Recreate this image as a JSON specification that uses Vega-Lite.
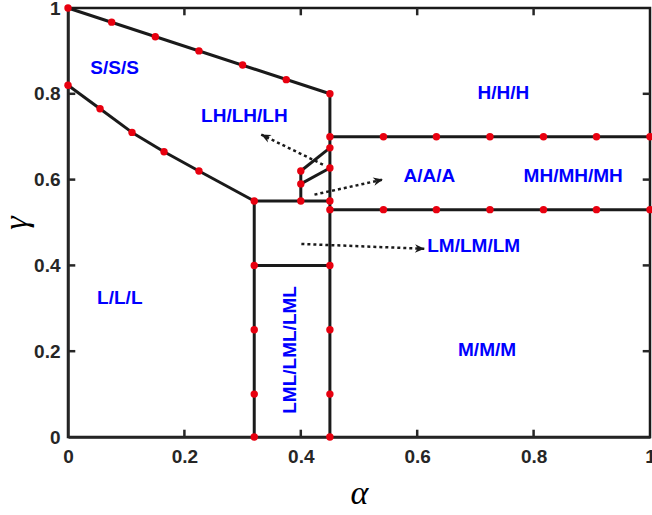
{
  "$schema": "https://vega.github.io/schema/vega-lite/v6.json",
  "width": 582,
  "height": 429,
  "autosize": {"type": "none"},
  "padding": {"left": 68, "top": 8, "right": 2, "bottom": 78},
  "background": "white",
  "config": {
    "view": {"stroke": "#1a1a1a", "strokeWidth": 2.5},
    "font": "Liberation Sans",
    "axis": {
      "grid": false,
      "zindex": 1,
      "domainColor": "#262626",
      "domainWidth": 2.5,
      "ticks": false,
      "labelFont": "Liberation Sans",
      "labelFontSize": 19,
      "labelFontWeight": "bold",
      "labelColor": "#262626",
      "labelFlush": false,
      "labelOverlap": false,
      "titleFont": "Liberation Serif",
      "titleFontStyle": "italic",
      "titleFontWeight": "normal",
      "titleFontSize": 34,
      "titleColor": "#000000"
    }
  },
  "datasets": {
    "segs": [
      {"a1": 0, "g1": 1, "a2": 0.45, "g2": 0.8},
      {"a1": 0, "g1": 0.82, "a2": 0.055, "g2": 0.765},
      {"a1": 0.055, "g1": 0.765, "a2": 0.11, "g2": 0.71},
      {"a1": 0.11, "g1": 0.71, "a2": 0.165, "g2": 0.665},
      {"a1": 0.165, "g1": 0.665, "a2": 0.225, "g2": 0.62},
      {"a1": 0.225, "g1": 0.62, "a2": 0.32, "g2": 0.55},
      {"a1": 0.32, "g1": 0.55, "a2": 0.45, "g2": 0.55},
      {"a1": 0.32, "g1": 0, "a2": 0.32, "g2": 0.55},
      {"a1": 0.45, "g1": 0, "a2": 0.45, "g2": 0.8},
      {"a1": 0.32, "g1": 0.4, "a2": 0.45, "g2": 0.4},
      {"a1": 0.45, "g1": 0.7, "a2": 1, "g2": 0.7},
      {"a1": 0.45, "g1": 0.53, "a2": 1, "g2": 0.53},
      {"a1": 0.4, "g1": 0.55, "a2": 0.4, "g2": 0.62},
      {"a1": 0.4, "g1": 0.59, "a2": 0.45, "g2": 0.627},
      {"a1": 0.4, "g1": 0.62, "a2": 0.45, "g2": 0.674}
    ],
    "tickmarks": [
      {"a1": 0.2, "g1": 0, "a2": 0.2, "g2": 0.017},
      {"a1": 0.4, "g1": 0, "a2": 0.4, "g2": 0.017},
      {"a1": 0.6, "g1": 0, "a2": 0.6, "g2": 0.017},
      {"a1": 0.8, "g1": 0, "a2": 0.8, "g2": 0.017},
      {"a1": 0.2, "g1": 1, "a2": 0.2, "g2": 0.983},
      {"a1": 0.4, "g1": 1, "a2": 0.4, "g2": 0.983},
      {"a1": 0.6, "g1": 1, "a2": 0.6, "g2": 0.983},
      {"a1": 0.8, "g1": 1, "a2": 0.8, "g2": 0.983},
      {"a1": 0, "g1": 0.2, "a2": 0.0125, "g2": 0.2},
      {"a1": 0, "g1": 0.4, "a2": 0.0125, "g2": 0.4},
      {"a1": 0, "g1": 0.6, "a2": 0.0125, "g2": 0.6},
      {"a1": 0, "g1": 0.8, "a2": 0.0125, "g2": 0.8},
      {"a1": 1, "g1": 0.2, "a2": 0.9875, "g2": 0.2},
      {"a1": 1, "g1": 0.4, "a2": 0.9875, "g2": 0.4},
      {"a1": 1, "g1": 0.6, "a2": 0.9875, "g2": 0.6},
      {"a1": 1, "g1": 0.8, "a2": 0.9875, "g2": 0.8}
    ],
    "dots": [
      {"a": 0, "g": 1}, {"a": 0.075, "g": 0.967}, {"a": 0.15, "g": 0.933}, {"a": 0.225, "g": 0.9},
      {"a": 0.3, "g": 0.867}, {"a": 0.375, "g": 0.833}, {"a": 0.45, "g": 0.8},
      {"a": 0, "g": 0.82}, {"a": 0.055, "g": 0.765}, {"a": 0.11, "g": 0.71}, {"a": 0.165, "g": 0.665},
      {"a": 0.225, "g": 0.62}, {"a": 0.32, "g": 0.55},
      {"a": 0.32, "g": 0}, {"a": 0.32, "g": 0.1}, {"a": 0.32, "g": 0.25}, {"a": 0.32, "g": 0.4},
      {"a": 0.4, "g": 0.55}, {"a": 0.45, "g": 0.55},
      {"a": 0.45, "g": 0}, {"a": 0.45, "g": 0.1}, {"a": 0.45, "g": 0.25}, {"a": 0.45, "g": 0.4},
      {"a": 0.45, "g": 0.53}, {"a": 0.45, "g": 0.627}, {"a": 0.45, "g": 0.674}, {"a": 0.45, "g": 0.7},
      {"a": 0.4, "g": 0.59}, {"a": 0.4, "g": 0.62},
      {"a": 0.542, "g": 0.7}, {"a": 0.633, "g": 0.7}, {"a": 0.725, "g": 0.7}, {"a": 0.817, "g": 0.7}, {"a": 0.908, "g": 0.7}, {"a": 1, "g": 0.7},
      {"a": 0.542, "g": 0.53}, {"a": 0.633, "g": 0.53}, {"a": 0.725, "g": 0.53}, {"a": 0.817, "g": 0.53}, {"a": 0.908, "g": 0.53}, {"a": 1, "g": 0.53}
    ],
    "arrows": [
      {"arrow": 1, "a1": 0.438, "g1": 0.635, "a2": 0.332, "g2": 0.705},
      {"arrow": 2, "a1": 0.4235, "g1": 0.565, "a2": 0.541, "g2": 0.6},
      {"arrow": 3, "a1": 0.401, "g1": 0.45, "a2": 0.6125, "g2": 0.4387}
    ],
    "labels": [
      {"label": "S/S/S", "a": 0.08, "g": 0.861},
      {"label": "LH/LH/LH", "a": 0.303, "g": 0.749},
      {"label": "H/H/H", "a": 0.748, "g": 0.803},
      {"label": "A/A/A", "a": 0.621, "g": 0.609},
      {"label": "MH/MH/MH", "a": 0.868, "g": 0.609},
      {"label": "LM/LM/LM", "a": 0.697, "g": 0.446},
      {"label": "L/L/L", "a": 0.089, "g": 0.324},
      {"label": "M/M/M", "a": 0.72, "g": 0.203}
    ],
    "vlabels": [
      {"label": "LML/LML/LML", "a": 0.381, "g": 0.203}
    ]
  },
  "layer": [
    {
      "data": {"name": "segs"},
      "mark": {"type": "rule", "color": "#1a1a1a", "strokeWidth": 3},
      "encoding": {
        "x": {"field": "a1", "type": "quantitative", "scale": {"domain": [0, 1], "nice": false},
          "axis": {"values": [0, 0.2, 0.4, 0.6, 0.8, 1], "format": "~g", "labelPadding": 10, "titlePadding": 10}, "title": "α"},
        "y": {"field": "g1", "type": "quantitative", "scale": {"domain": [0, 1], "nice": false},
          "axis": {"values": [0, 0.2, 0.4, 0.6, 0.8, 1], "format": "~g", "labelPadding": 8, "titlePadding": 0}, "title": "γ"},
        "x2": {"field": "a2"},
        "y2": {"field": "g2"}
      }
    },
    {
      "data": {"name": "tickmarks"},
      "mark": {"type": "rule", "color": "#262626", "strokeWidth": 2.5},
      "encoding": {
        "x": {"field": "a1", "type": "quantitative"},
        "y": {"field": "g1", "type": "quantitative"},
        "x2": {"field": "a2"},
        "y2": {"field": "g2"}
      }
    },
    {
      "data": {"name": "arrows"},
      "mark": {"type": "rule", "color": "#1a1a1a", "strokeWidth": 2.5, "strokeDash": [3, 3]},
      "encoding": {
        "x": {"field": "a1", "type": "quantitative"},
        "y": {"field": "g1", "type": "quantitative"},
        "x2": {"field": "a2"},
        "y2": {"field": "g2"}
      }
    },
    {
      "data": {"name": "arrows"},
      "transform": [{"filter": "datum.arrow == 1"}],
      "mark": {"type": "point", "shape": "M0,0 L-2,-0.9 L-1.4,0 L-2,0.9 Z", "filled": true, "color": "#1a1a1a", "opacity": 1, "size": 90, "angle": 206},
      "encoding": {"x": {"field": "a2", "type": "quantitative"}, "y": {"field": "g2", "type": "quantitative"}}
    },
    {
      "data": {"name": "arrows"},
      "transform": [{"filter": "datum.arrow == 2"}],
      "mark": {"type": "point", "shape": "M0,0 L-2,-0.9 L-1.4,0 L-2,0.9 Z", "filled": true, "color": "#1a1a1a", "opacity": 1, "size": 90, "angle": 347.6},
      "encoding": {"x": {"field": "a2", "type": "quantitative"}, "y": {"field": "g2", "type": "quantitative"}}
    },
    {
      "data": {"name": "arrows"},
      "transform": [{"filter": "datum.arrow == 3"}],
      "mark": {"type": "point", "shape": "M0,0 L-2,-0.9 L-1.4,0 L-2,0.9 Z", "filled": true, "color": "#1a1a1a", "opacity": 1, "size": 90, "angle": 2.3},
      "encoding": {"x": {"field": "a2", "type": "quantitative"}, "y": {"field": "g2", "type": "quantitative"}}
    },
    {
      "data": {"name": "dots"},
      "mark": {"type": "circle", "color": "#e8000f", "opacity": 1, "size": 55},
      "encoding": {"x": {"field": "a", "type": "quantitative"}, "y": {"field": "g", "type": "quantitative"}}
    },
    {
      "data": {"name": "labels"},
      "mark": {"type": "text", "color": "#0000ff", "fontSize": 19, "fontWeight": "bold", "font": "Liberation Sans", "align": "center", "baseline": "middle"},
      "encoding": {"x": {"field": "a", "type": "quantitative"}, "y": {"field": "g", "type": "quantitative"}, "text": {"field": "label"}}
    },
    {
      "data": {"name": "vlabels"},
      "mark": {"type": "text", "color": "#0000ff", "fontSize": 19, "fontWeight": "bold", "font": "Liberation Sans", "align": "center", "baseline": "middle", "angle": 270},
      "encoding": {"x": {"field": "a", "type": "quantitative"}, "y": {"field": "g", "type": "quantitative"}, "text": {"field": "label"}}
    }
  ]
}
